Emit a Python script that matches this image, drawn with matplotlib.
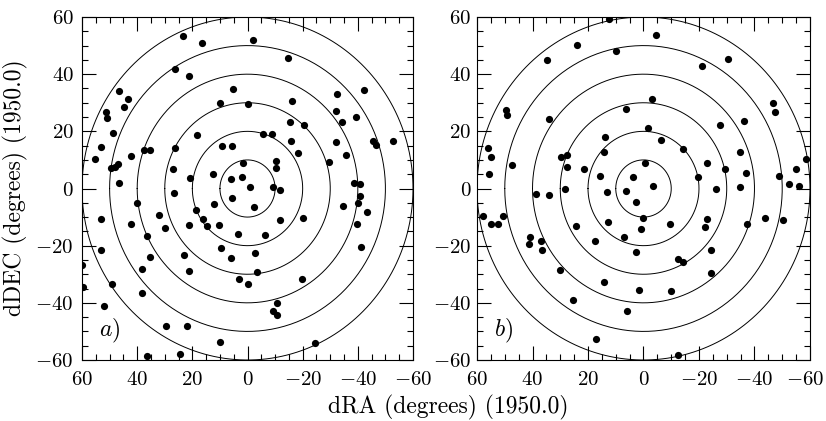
import numpy as np
import matplotlib.pyplot as plt
import matplotlib.ticker as mticker
import matplotlib.transforms as mtransforms

# panel a) positions (dRA, dDEC) in degrees
raA = [23.3, 16.5, 26.2, 21.2, 10.0, 46.7, 43.3, 44.7, 51.4, 50.8, 48.6, 18.2, 53.2, 55.3,
       42.1, 37.4, 35.2, 26.2, 9.4, 5.7, 49.5, 48.1, 46.8, 46.6, 27.1, 20.7, 12.4, 26.6,
       6.0, -1.9, -14.7, 5.1, -0.3, -16.1, -32.5, -42.1, -32.1, -39.4, -34.2, -15.5, -20.4,
       -5.7, -9.0, -15.6, -18.2, -32.2, -35.8, -29.4, -45.5, -46.7, -52.8, 1.7, -10.4, -10.3,
       1.9, -0.9, -9.3, -11.9, 5.6, -38.6, -40.8, -40.8,
       -2.5, -34.5, -40.2, -43.3, -39.6, -41.2, -20.2, -11.9, 3.3, -6.3, 9.6, 6.1, -2.6,
       -3.3, 3.2, -0.2, -19.7, -10.7, -9.3, -10.7, 10.0, -24.5,
       40.1, 12.1, 53.3, 42.1, 32.2, 30.0, 18.7, 16.0, 14.8, 21.3, 10.2, 36.3, 53.3, 35.3,
       38.1, 22.9, 21.1, 60.0, 59.7, 49.2, 38.3, 52.1, 29.5, 21.8, 36.4, 24.5]
decA = [53.3, 50.8, 41.8, 39.3, 30.0, 34.1, 31.3, 28.6, 26.9, 24.5, 19.4, 18.8, 14.6, 10.3,
        11.4, 13.4, 13.4, 14.0, 15.0, 15.0, 7.2, 7.4, 8.5, 2.0, 6.9, 3.8, 5.2, -1.7,
        3.2, 51.8, 45.7, 34.7, 29.4, 30.5, 33.0, 34.4, 27.1, 25.1, 23.3, 23.1, 22.3,
        18.9, 18.9, 16.7, 12.5, 16.2, 11.8, 9.4, 16.5, 15.3, 16.7, 8.8, 9.5, 7.1,
        4.1, 0.4, 0.4, -0.5, -3.3, 1.9, 1.5, -2.6,
        -6.5, -6.0, -5.0, -8.1, -12.3, -20.5, -10.3, -11.1, -16.0, -16.4, -20.9, -24.2, -22.4,
        -29.3, -31.6, -33.5, -31.6, -39.9, -42.7, -44.3, -53.8, -54.1,
        -5.0, -5.5, -10.8, -12.3, -9.2, -13.7, -7.6, -10.6, -13.0, -12.9, -12.7, -16.6, -21.6, -23.8,
        -28.0, -23.4, -28.8, -26.7, -34.3, -33.5, -36.6, -41.0, -48.2, -48.2, -58.6, -57.8]

# panel b)
raB = [12.6, 24.0, 10.0, 34.6, 49.5, 49.3, 33.9, 6.4, 13.9, 14.4, 56.1, 54.8, 55.7, 47.3,
       29.8, 27.4, 27.7, 21.3, 15.7, 3.8, 6.4, 13.1, 28.3, 38.7, 34.1,
       -4.4, -30.4, -21.2, -3.2, -46.6, -47.5, -36.1, -27.6, -1.5, -6.2, -14.1, -34.7, -22.8,
       -0.7, -29.5, -36.9, -19.6, -58.6, -54.8, -49.0, -52.6, -56.2, -3.6, -26.2, -34.7,
       2.7, 57.7, 50.5, 55.0, 52.5, 24.3, 12.9, 1.0, 40.9, 41.1, 37.0, 36.5, 17.5, 7.0, 2.6,
       30.0, 14.3, 1.7, 25.4, 6.1, 17.2,
       0.1, -9.6, -22.9, -22.0, -37.4, -43.8, -50.4, -24.2, -12.4, -14.4, -24.5, -10.0, -12.4]
decB = [59.4, 50.3, 48.1, 44.8, 27.3, 25.6, 24.4, 27.7, 18.1, 12.8, 14.3, 11.1, 5.1, 8.3,
        10.9, 11.6, 7.5, 6.8, 4.5, 4.0, -0.8, -1.2, -0.3, -1.9, -2.3,
        53.6, 45.4, 42.8, 31.2, 29.8, 26.7, 23.5, 22.2, 21.3, 16.9, 13.8, 12.8, 9.0,
        9.0, 6.7, 5.3, 4.1, 10.2, 6.9, 4.4, 1.6, 0.9, 0.9, -0.3, 0.5,
        -4.7, -9.5, -9.6, -12.4, -12.4, -13.1, -11.8, -14.3, -16.8, -19.5, -18.4, -21.6, -18.2, -17.0, -22.3,
        -28.5, -32.8, -35.5, -39.0, -42.7, -52.7,
        -10.3, -12.4, -10.7, -13.5, -12.3, -10.3, -11.0, -21.5, -24.8, -25.8, -29.5, -35.8, -58.1]

radii = [10, 20, 30, 40, 50, 60]
panelLabels = ["$a$)", "$b$)"]

plt.rcParams['font.family'] = 'cmr10'
plt.rcParams['mathtext.fontset'] = 'cm'
plt.rcParams['axes.formatter.use_mathtext'] = True
plt.rcParams['font.size'] = 17


def drawPanel(ax, ra, dec, label, yPad):
  t = np.linspace(0, 2 * np.pi, 400)
  for r in radii:
    ax.plot(r * np.cos(t), r * np.sin(t), color="black", linewidth=0.7)
  ax.scatter(ra, dec, s=27, color="black", zorder=3, linewidths=0)

  ax.set_xlim(60, -60)
  ax.set_ylim(-60, 60)

  ax.xaxis.set_major_locator(mticker.MultipleLocator(20))
  ax.yaxis.set_major_locator(mticker.MultipleLocator(20))
  ax.xaxis.set_minor_locator(mticker.MultipleLocator(5))
  ax.yaxis.set_minor_locator(mticker.MultipleLocator(5))
  ax.tick_params(which='both', direction='in', top=True, right=True, width=0.8, labelsize=15)
  ax.tick_params(which='major', length=10)
  ax.tick_params(which='minor', length=4)
  ax.tick_params(axis='x', pad=8)
  ax.tick_params(axis='y', pad=yPad)

  ax.text(0.05, 0.07, label, transform=ax.transAxes, fontsize=17)


fig = plt.figure(figsize=(8.26, 4.21), dpi=100)
axA = fig.add_axes([0.0993, 0.1449, 0.4007, 0.8147])
axB = fig.add_axes([0.5775, 0.1449, 0.4031, 0.8147])

drawPanel(axA, raA, decA, panelLabels[0], 6)
drawPanel(axB, raB, decB, panelLabels[1], 4)

# keep the "-60" at the right end of panel b inside the figure
fig.canvas.draw()
for tick in axB.xaxis.get_major_ticks():
  if abs(tick.get_loc() + 60) < 1e-6:
    lab = tick.label1
    lab.set_transform(lab.get_transform() + mtransforms.ScaledTranslation(-5 / 100, 0, fig.dpi_scale_trans))

fig.text(0.019, 0.553, "dDEC (degrees) (1950.0)", rotation=90, ha='center', va='center')
fig.text(0.543, 0.033, "dRA (degrees) (1950.0)", ha='center', va='center')

fig.savefig("out.png", dpi=100)
